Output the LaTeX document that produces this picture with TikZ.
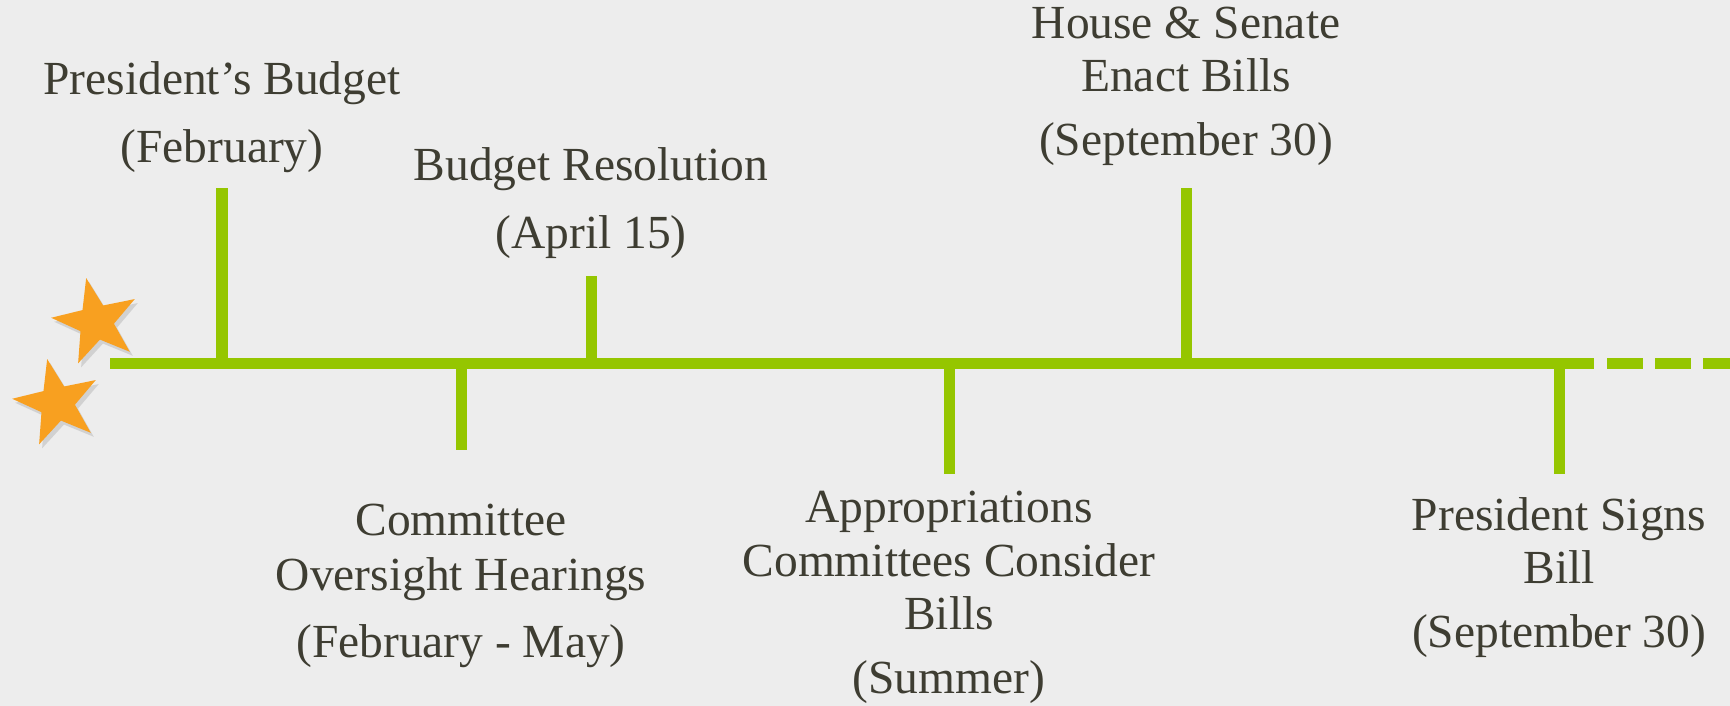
\documentclass[tikz,border=0pt]{standalone}
\usepackage{fontspec}
\setmainfont{Liberation Serif}
\usetikzlibrary{shapes.geometric}
\usetikzlibrary{shadows}

\definecolor{timegreen}{RGB}{149,198,0}
\definecolor{starorange}{RGB}{248,160,32}
\definecolor{labeltext}{RGB}{62,61,50}
\definecolor{paper}{RGB}{237,237,237}

\tikzset{
	timeline/.style={timegreen, line width=0.11cm},
	tick/.style={timegreen, line width=0.11cm},
	label/.style={labeltext, align=center, anchor=base, inner sep=0pt, font=\fontsize{13.5pt}{15.2pt}\selectfont},
	orangestar/.style={star, star points=5, star point ratio=2.5, minimum size=0.9cm, inner sep=0pt, fill=starorange, shape border rotate=12.6, drop shadow={shadow xshift=0.03cm, shadow yshift=-0.04cm, opacity=0.25}}
}

\begin{document}
\begin{tikzpicture}[x=0.01cm, y=-0.01cm]

	% Paper and size
	\fill [paper] (0,0) rectangle (1730,706);
	\useasboundingbox (0,0) rectangle (1730,706);

	%Stars at the start
	\node (star1) [orangestar] at (96,322) {};
	\node (star2) [orangestar] at (57,403) {};

	%Points on the time line
	\coordinate (start) at (110,363);
	\coordinate (solidend) at (1594,363);
	\coordinate (dashstart) at (1607,363);
	\coordinate (lineend) at (1730,363);
	\coordinate (feb) at (222,363);
	\coordinate (hear) at (461,363);
	\coordinate (apr) at (591,363);
	\coordinate (summer) at (949,363);
	\coordinate (enact) at (1186,363);
	\coordinate (sign) at (1559,363);

	%Tick ends
	\coordinate (febtop) at (222,188);
	\coordinate (hearbot) at (461,450);
	\coordinate (aprtop) at (591,276);
	\coordinate (summerbot) at (949,474);
	\coordinate (enacttop) at (1186,188);
	\coordinate (signbot) at (1559,474);

	%Drawing the time line
	\draw [timeline] (start)--(solidend);
	\draw [timeline, dash pattern=on 0.36cm off 0.12cm] (dashstart)--(lineend);

	%Ticks
	\draw [tick] (feb)--(febtop);
	\draw [tick] (hear)--(hearbot);
	\draw [tick] (apr)--(aprtop);
	\draw [tick] (summer)--(summerbot);
	\draw [tick] (enact)--(enacttop);
	\draw [tick] (sign)--(signbot);

	%Labelling above the line (anchored at the last line)
	\node (budget) [label] at (222,162) {President's Budget\\[0.14cm](February)};
	\node (resolution) [label] at (591,248) {Budget Resolution\\[0.14cm](April 15)};
	\node (bills) [label] at (1186,155) {House \& Senate\\Enact Bills\\[0.1cm](September 30)};

	%Labelling below the line
	\node (hearings) [label] at (461,657) {Committee\\[0.02cm]Oversight Hearings\\[0.13cm](February - May)};
	\node (approp) [label] at (949,693) {Appropriations\\Committees Consider\\Bills\\[0.1cm](Summer)};
	\node (signs) [label] at (1559,647) {President Signs\\Bill\\[0.1cm](September 30)};

\end{tikzpicture}
\end{document}
